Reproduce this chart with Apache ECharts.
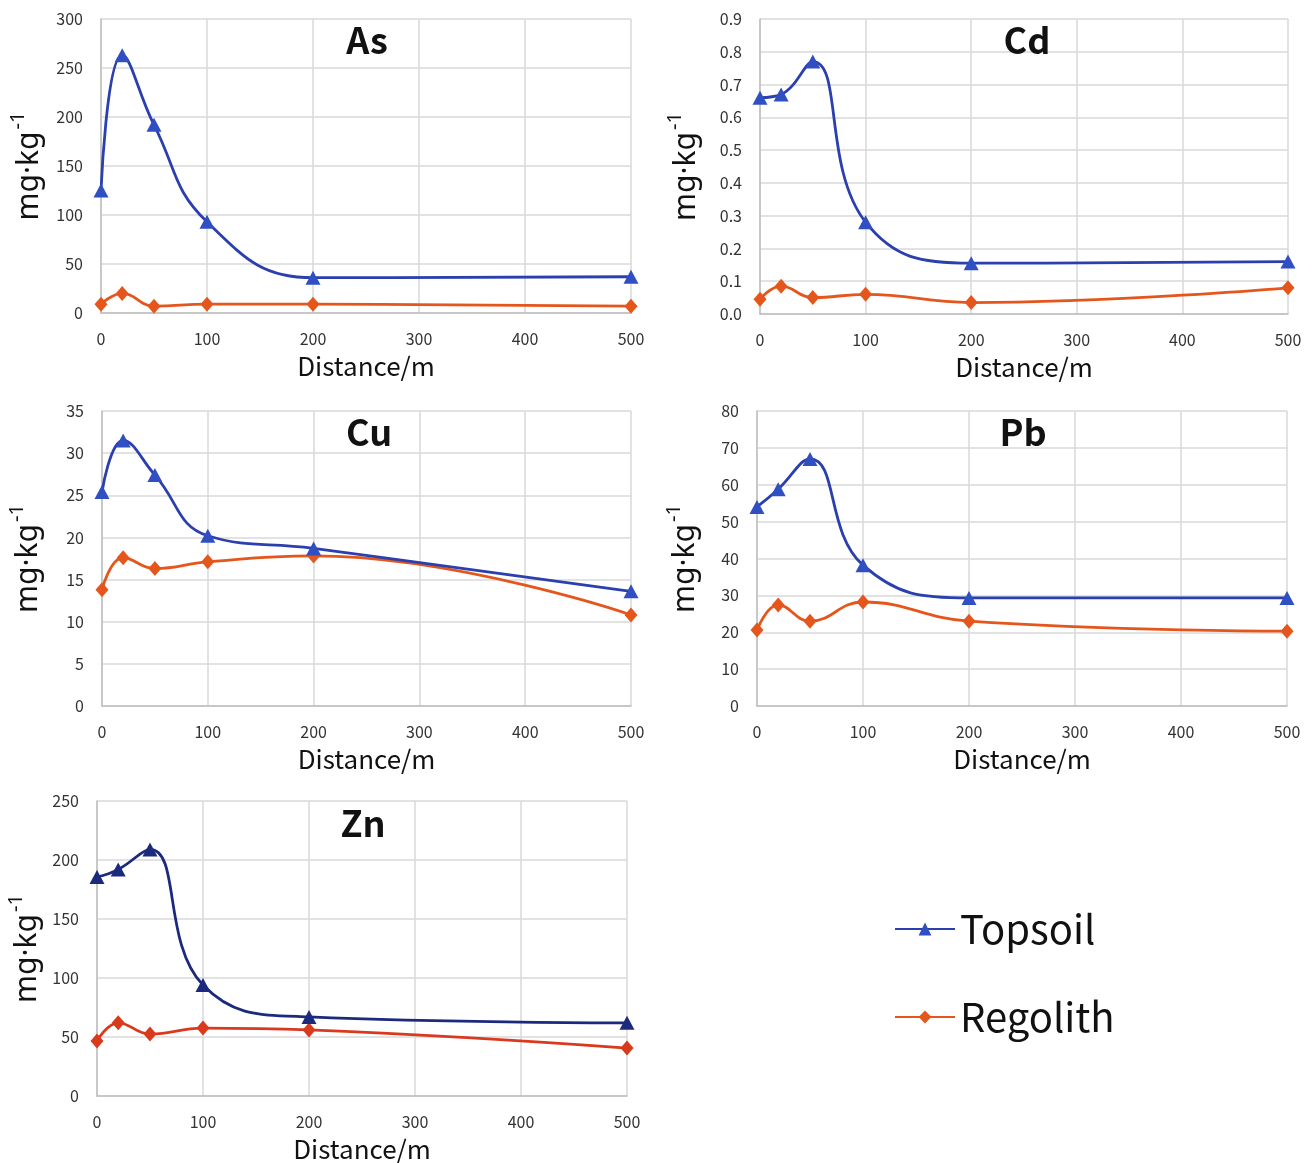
<!DOCTYPE html>
<html>
<head>
<meta charset="utf-8">
<script src="https://cdn.jsdelivr.net/npm/echarts@6/dist/echarts.min.js"></script>
<style>
html,body{margin:0;padding:0;background:#fff;}
#main{width:1315px;height:1163px;}
</style>
</head>
<body>
<div id="main"></div>
<script>
// ---- data ----
const distances = [0, 20, 50, 100, 200, 500];
const xTicks = [0, 100, 200, 300, 400, 500];
const elements = ['As', 'Cd', 'Cu', 'Pb', 'Zn'];

const asTopsoil  = [125, 263, 192, 93, 36, 37];
const asRegolith = [9, 20, 7, 9, 9, 7];

const cdTopsoil  = [0.66, 0.67, 0.77, 0.28, 0.155, 0.16];
const cdRegolith = [0.045, 0.085, 0.05, 0.06, 0.035, 0.08];

const cuTopsoil  = [25.4, 31.5, 27.4, 20.2, 18.7, 13.6];
const cuRegolith = [13.8, 17.6, 16.3, 17.1, 17.8, 10.8];

const pbTopsoil  = [54, 58.8, 67, 38.2, 29.3, 29.3];
const pbRegolith = [20.6, 27.4, 23, 28.2, 23, 20.3];

const znTopsoil  = [185.6, 192, 209, 94, 67, 62];
const znRegolith = [46.6, 62, 52.5, 57.6, 56, 40.6];

const yMax      = [300, 0.9, 35, 80, 250];
const yInterval = [50, 0.1, 5, 10, 50];
const yDecimals = [0, 1, 0, 0, 0];

// ---- layout ----
const grids = [
  {left: 101, top: 19,  width: 530, height: 294},
  {left: 760, top: 19,  width: 528, height: 295},
  {left: 102, top: 411, width: 529, height: 295},
  {left: 757, top: 411, width: 530, height: 295},
  {left: 97,  top: 801, width: 530, height: 295}
];
const titlePos = [[367, 40], [1027, 40], [369, 432], [1023, 432], [363, 823]];
const yNameGap = [57, 59, 59, 57, 55];

const topsoilSets  = [asTopsoil, cdTopsoil, cuTopsoil, pbTopsoil, znTopsoil];
const regolithSets = [asRegolith, cdRegolith, cuRegolith, pbRegolith, znRegolith];
const topColors = ['#2b3fae', '#2b3fae', '#2b3fae', '#2b3fae', '#1c2a7e'];
const topMarker = ['#2f4fc2', '#2f4fc2', '#2f4fc2', '#2f4fc2', '#1c2a7e'];
const regColors = ['#e5561d', '#e5561d', '#e5561d', '#e5561d', '#d93a1e'];

const FONT = '"Noto Sans CJK SC", "Noto Sans", sans-serif';
const NAMEFONT = '"Noto Sans", "DejaVu Sans", sans-serif';

const xAxes = [], yAxes = [], series = [], graphics = [];
grids.forEach((g, i) => {
  xAxes.push({
    type: 'value', gridIndex: i, min: 0, max: 500, interval: 100,
    name: 'Distance/m', nameLocation: 'middle', nameGap: 40,
    nameTextStyle: {fontFamily: FONT, fontSize: 26, color: '#111'},
    axisLine: {show: true, lineStyle: {color: '#bfbfbf', width: 1.5}},
    axisTick: {show: false},
    axisLabel: {fontFamily: FONT, fontSize: 16, color: '#333', margin: 18,
      formatter: v => xTicks.includes(v) ? String(v) : ''},
    splitLine: {show: true, lineStyle: {color: '#d9d9d9', width: 1.5}}
  });
  yAxes.push({
    type: 'value', gridIndex: i, min: 0, max: yMax[i], interval: yInterval[i],
    name: '{b|mg·kg}{s|-1}', nameLocation: 'middle', nameGap: yNameGap[i],
    nameTextStyle: {
      rich: {
        b: {fontFamily: NAMEFONT, fontSize: 30, color: '#111', verticalAlign: 'bottom', lineHeight: 36},
        s: {fontFamily: NAMEFONT, fontSize: 20, color: '#111', verticalAlign: 'top', lineHeight: 36, padding: [0, 0, 14, 2]}
      }
    },
    axisLine: {show: true, lineStyle: {color: '#bfbfbf', width: 1.5}},
    axisTick: {show: false},
    axisLabel: {fontFamily: FONT, fontSize: 16, color: '#333', margin: 18,
      formatter: v => v.toFixed(yDecimals[i])},
    splitLine: {show: true, lineStyle: {color: '#d9d9d9', width: 1.5}}
  });
  series.push({
    name: 'Topsoil', type: 'line', xAxisIndex: i, yAxisIndex: i,
    data: distances.map((d, k) => [d, topsoilSets[i][k]]),
    smooth: 0.45, symbol: 'triangle', symbolSize: [15, 14],
    lineStyle: {color: topColors[i], width: 2.8},
    itemStyle: {color: topMarker[i]},
    z: 3
  });
  series.push({
    name: 'Regolith', type: 'line', xAxisIndex: i, yAxisIndex: i,
    data: distances.map((d, k) => [d, regolithSets[i][k]]),
    smooth: 0.45, symbol: 'diamond', symbolSize: [13, 15],
    lineStyle: {color: regColors[i], width: 2.8},
    itemStyle: {color: regColors[i]},
    z: 2
  });
  graphics.push({
    type: 'text', x: titlePos[i][0], y: titlePos[i][1], z: 100,
    style: {text: elements[i], fontFamily: FONT, fontSize: 36, fontWeight: 'bold',
      fill: '#111', textAlign: 'center', textVerticalAlign: 'middle'}
  });
});

const chart = echarts.init(document.getElementById('main'), null, {renderer: 'canvas'});
chart.setOption({
  backgroundColor: '#fff',
  animation: false,
  grid: grids.map(g => Object.assign({containLabel: false, outerBoundsMode: 'none'}, g)),
  xAxis: xAxes,
  yAxis: yAxes,
  series: series,
  graphic: graphics,
  legend: {
    data: ['Topsoil', 'Regolith'],
    orient: 'vertical', left: 889, top: 900,
    itemWidth: 60, itemHeight: 16, itemGap: 40,
    textStyle: {fontFamily: FONT, fontSize: 40, color: '#111', lineHeight: 48}
  }
});
</script>
</body>
</html>
